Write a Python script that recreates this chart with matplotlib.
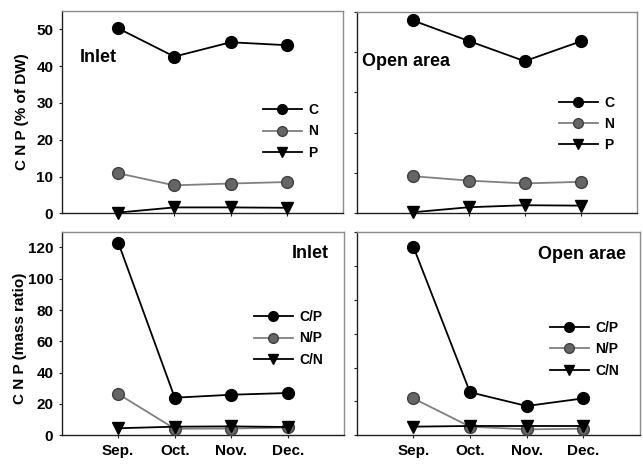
import matplotlib
matplotlib.use("Agg")
import matplotlib.pyplot as plt
from matplotlib.lines import Line2D

plt.rcParams['font.family'] = ['Liberation Sans', 'DejaVu Sans']
plt.rcParams['font.weight'] = 'bold'

months = ["Sep.", "Oct.", "Nov.", "Dec."]
x_pos = [1, 2, 3, 4]

# Element content (% of dry weight)
inlet_C = [50.3, 42.6, 46.5, 45.7]
inlet_N = [10.9, 7.6, 8.1, 8.5]
inlet_P = [0.2, 1.6, 1.6, 1.5]
open_C = [47.8, 42.7, 37.7, 42.6]
open_N = [9.2, 8.1, 7.4, 7.8]
open_P = [0.25, 1.5, 2.0, 1.9]

# Mass ratios
inlet_CP = [123.1, 24.0, 25.9, 27.0]
inlet_NP = [26.4, 4.2, 4.3, 5.0]
inlet_CN = [4.5, 5.5, 5.7, 5.3]
open_CP = [111.3, 25.4, 17.3, 21.8]
open_NP = [21.8, 5.1, 3.5, 3.9]
open_CN = [5.1, 5.5, 5.5, 5.5]

W, H = 643, 466
fig = plt.figure(figsize=(W / 100, H / 100), dpi=100)


def add_ax(x0, y0, x1, y1):
    return fig.add_axes([x0 / W, 1 - y1 / H, (x1 - x0) / W, (y1 - y0) / H])


BLACK = "#000000"
GREY_FACE = "#666666"
GREY_EDGE = "#404040"
GREY_LINE = "#808080"
FRAME = "#8c8c8c"


def style(ax, ylim, yticks, show_ylabels, show_xlabels):
    ax.set_xlim(0, 5)
    ax.set_ylim(*ylim)
    ax.set_yticks(yticks)
    ax.set_xticks(x_pos)
    for side in ("top", "right"):
        ax.spines[side].set_color(FRAME)
        ax.spines[side].set_linewidth(1.0)
    for side in ("left", "bottom"):
        ax.spines[side].set_color("#202020")
        ax.spines[side].set_linewidth(1.0)
    ax.tick_params(axis="both", direction="out", length=2.5, width=0.8,
                   color="#202020", pad=3.5, labelsize=11)
    ax.tick_params(axis="x", pad=4, labelsize=11)
    if show_ylabels:
        ax.set_yticklabels([str(t) for t in yticks], fontweight="bold")
    else:
        ax.set_yticklabels([])
    if show_xlabels:
        ax.set_xticklabels(months, fontweight="bold")
    else:
        ax.set_xticklabels([])


def draw_series(ax, s1, s2, s3, labels, legend_anchor):
    ax.plot(x_pos, s1, color=BLACK, lw=1.3, marker="o", ms=8.5,
            mfc=BLACK, mec=BLACK, zorder=4, clip_on=False)
    ax.plot(x_pos, s2, color=GREY_LINE, lw=1.3, marker="o", ms=8.5,
            mfc=GREY_FACE, mec=GREY_EDGE, zorder=3, clip_on=False)
    ax.plot(x_pos, s3, color=BLACK, lw=1.3, marker="v", ms=8.5,
            mfc=BLACK, mec=BLACK, zorder=5, clip_on=False)
    handles = [
        Line2D([], [], color=BLACK, lw=1.3, marker="o", ms=7, mfc=BLACK, mec=BLACK),
        Line2D([], [], color=GREY_LINE, lw=1.3, marker="o", ms=7, mfc=GREY_FACE, mec=GREY_EDGE),
        Line2D([], [], color=BLACK, lw=1.3, marker="v", ms=7, mfc=BLACK, mec=BLACK),
    ]
    ax.legend(handles, labels, loc="center left", bbox_to_anchor=legend_anchor,
              frameon=False, borderpad=0, borderaxespad=0, handlelength=2.8,
              handletextpad=0.45, labelspacing=0.52,
              prop={"size": 10, "weight": "bold"})


ax_tl = add_ax(61.7, 11.0, 343.3, 213.3)
style(ax_tl, (0, 55), [0, 10, 20, 30, 40, 50], True, False)
draw_series(ax_tl, inlet_C, inlet_N, inlet_P, ["C", "N", "P"], (0.715, 0.405))
ax_tl.text(0.065, 0.768, "Inlet", transform=ax_tl.transAxes, fontsize=13,
           fontweight="bold", ha="left", va="center")

ax_tr = add_ax(356.7, 11.5, 636.7, 213.3)
style(ax_tr, (0, 50), [0, 10, 20, 30, 40, 50], False, False)
draw_series(ax_tr, open_C, open_N, open_P, ["C", "N", "P"], (0.7225, 0.4425))
ax_tr.text(0.019, 0.751, "Open area", transform=ax_tr.transAxes, fontsize=13,
           fontweight="bold", ha="left", va="center")

ax_bl = add_ax(61.7, 231.7, 344.3, 435.3)
style(ax_bl, (0, 130), [0, 20, 40, 60, 80, 100, 120], True, True)
draw_series(ax_bl, inlet_CP, inlet_NP, inlet_CN, ["C/P", "N/P", "C/N"], (0.680, 0.476))
ax_bl.text(0.815, 0.895, "Inlet", transform=ax_bl.transAxes, fontsize=13,
           fontweight="bold", ha="left", va="center")

ax_br = add_ax(356.7, 232.0, 640.0, 435.3)
style(ax_br, (0, 120), [0, 20, 40, 60, 80, 100, 120], False, True)
draw_series(ax_br, open_CP, open_NP, open_CN, ["C/P", "N/P", "C/N"], (0.682, 0.423))
ax_br.text(0.64, 0.887, "Open arae", transform=ax_br.transAxes, fontsize=13,
           fontweight="bold", ha="left", va="center")

fig.text(22 / W, 1 - 112 / H, "C N P (% of DW)", rotation=90, ha="center",
         va="center", fontsize=11, fontweight="bold")
fig.text(20 / W, 1 - 338 / H, "C N P (mass ratio)", rotation=90, ha="center",
         va="center", fontsize=11, fontweight="bold")

fig.savefig("out.png", dpi=100)
